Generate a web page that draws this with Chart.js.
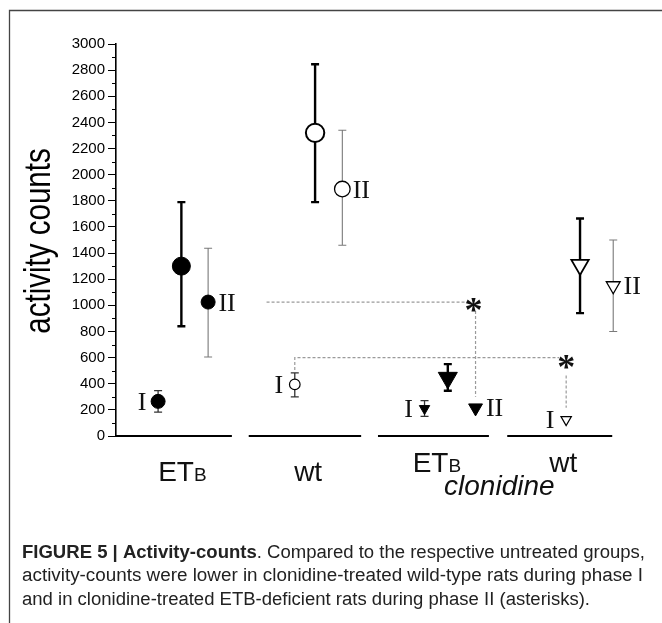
<!DOCTYPE html>
<html><head><meta charset="utf-8">
<script src="https://cdn.jsdelivr.net/npm/chart.js@4.4.1/dist/chart.umd.min.js"></script>
<style>html,body{margin:0;padding:0;background:#fff;}canvas{display:block;}</style>
</head><body>
<canvas id="c" width="662" height="623"></canvas>
<script>
// ---- data ----
const groupMain = ['ET', 'wt', 'ET', 'wt'];
const groupSmall = ['B', '', 'B', ''];
const treatmentLabel = 'clonidine';
const phaseLabels = ['I', '', 'II'];
const yTicksMajor = [0, 200, 400, 600, 800, 1000, 1200, 1400, 1600, 1800, 2000, 2200, 2400, 2600, 2800, 3000];
const yTitle = 'activity counts';

// ETB (untreated)
const etbX = [0.85, 1.32, 1.86];
const etbMean = [265, 1300, 1025];
const etbLow = [182, 840, 605];
const etbHigh = [347, 1790, 1437];
// wt (untreated)
const wtX = [3.61, 4.02, 4.57];
const wtMean = [395, 2320, 1890];
const wtLow = [300, 1790, 1460];
const wtHigh = [483, 2845, 2340];
// ETB + clonidine
const etbCX = [6.23, 6.70, 7.26];
const etbCMean = [210, 445, 215];
const etbCLow = [150, 346, 215];
const etbCHigh = [270, 550, 215];
// wt + clonidine
const wtCX = [9.09, 9.37, 10.04];
const wtCMean = [125, 1310, 1150];
const wtCLow = [125, 940, 800];
const wtCHigh = [125, 1665, 1500];

// significance comparisons (value levels)
const sigLevel = [1025, 600];

const captionBold = 'FIGURE 5 | Activity-counts';
const captionLines = [
  '. Compared to the respective untreated groups,',
  'activity-counts were lower in clonidine-treated wild-type rats during phase I',
  'and in clonidine-treated ETB-deficient rats during phase II (asterisks).'
];

// ---- build ----
const groups = [
  {x: etbX, m: etbMean, lo: etbLow, hi: etbHigh},
  {x: wtX, m: wtMean, lo: wtLow, hi: wtHigh},
  {x: etbCX, m: etbCMean, lo: etbCLow, hi: etbCHigh},
  {x: wtCX, m: wtCMean, lo: wtCLow, hi: wtCHigh}
];
const styles = [
  {shape: 'circle', fill: '#000', r: [7, 9, 7], bw: [1, 1, 1], rot: 0},
  {shape: 'circle', fill: '#fff', r: [5.3, 9.2, 7.8], bw: [1.2, 2, 1.3], rot: 0},
  {shape: 'triangle', fill: '#000', r: [6, 11, 8], bw: [1, 1, 1], rot: 180},
  {shape: 'triangle', fill: '#fff', r: [6, 10, 8], bw: [1.2, 1.8, 1.3], rot: 180}
];
const barStyle = [
  {c: '#333', w: 1.3}, {c: '#000', w: 2.4}, {c: '#7a7a7a', w: 1.1}
];

const datasets = groups.map((g, gi) => ({
  data: g.x.map((x, i) => ({x: x, y: g.m[i]})),
  showLine: false,
  pointStyle: styles[gi].shape,
  pointRotation: styles[gi].rot,
  pointRadius: styles[gi].r,
  pointBackgroundColor: styles[gi].fill,
  pointBorderColor: '#000',
  pointBorderWidth: styles[gi].bw
}));

const overlay = {
  id: 'overlay',
  beforeDatasetsDraw(chart) {
    const ctx = chart.ctx, xs = chart.scales.x, ys = chart.scales.y;
    const ax = chart.chartArea.left;
    ctx.save();
    // minor ticks
    ctx.strokeStyle = '#000'; ctx.lineWidth = 1;
    for (let v = 100; v < 3000; v += 200) {
      const y = Math.round(ys.getPixelForValue(v)) + 0.5;
      ctx.beginPath(); ctx.moveTo(ax - 4, y); ctx.lineTo(ax, y); ctx.stroke();
    }
    // group baselines
    const spans = [[0, 2.34], [2.68, 4.95], [5.29, 7.53], [7.90, 10.02]];
    const y0 = ys.getPixelForValue(0);
    ctx.lineWidth = 1.8;
    spans.forEach(s => {
      ctx.beginPath(); ctx.moveTo(xs.getPixelForValue(s[0]), y0); ctx.lineTo(xs.getPixelForValue(s[1]), y0); ctx.stroke();
    });
    // dashed significance lines
    ctx.strokeStyle = '#9a9a9a'; ctx.lineWidth = 1.2; ctx.setLineDash([3, 2]);
    let yl = ys.getPixelForValue(sigLevel[0]);
    ctx.beginPath();
    ctx.moveTo(xs.getPixelForValue(3.04), yl);
    ctx.lineTo(xs.getPixelForValue(etbCX[2]) - 8, yl);
    ctx.stroke();
    ctx.beginPath();
    ctx.moveTo(xs.getPixelForValue(etbCX[2]), yl + 9);
    ctx.lineTo(xs.getPixelForValue(etbCX[2]), ys.getPixelForValue(300));
    ctx.stroke();
    yl = ys.getPixelForValue(sigLevel[1]);
    ctx.beginPath();
    ctx.moveTo(xs.getPixelForValue(wtX[0]), ys.getPixelForValue(wtHigh[0]) - 3);
    ctx.lineTo(xs.getPixelForValue(wtX[0]), yl);
    ctx.lineTo(xs.getPixelForValue(wtCX[0]) - 7, yl);
    ctx.stroke();
    ctx.beginPath();
    ctx.moveTo(xs.getPixelForValue(wtCX[0]), yl + 18);
    ctx.lineTo(xs.getPixelForValue(wtCX[0]), ys.getPixelForValue(wtCMean[0]) - 12);
    ctx.stroke();
    ctx.setLineDash([]);
    // error bars
    groups.forEach(g => {
      g.x.forEach((x, i) => {
        if (g.lo[i] === g.hi[i]) return;
        const px = xs.getPixelForValue(x);
        const yt = ys.getPixelForValue(g.hi[i]), yb = ys.getPixelForValue(g.lo[i]);
        ctx.strokeStyle = barStyle[i].c; ctx.lineWidth = barStyle[i].w;
        ctx.beginPath();
        ctx.moveTo(px, yt); ctx.lineTo(px, yb);
        ctx.moveTo(px - 4, yt); ctx.lineTo(px + 4, yt);
        ctx.moveTo(px - 4, yb); ctx.lineTo(px + 4, yb);
        ctx.stroke();
      });
    });
    ctx.restore();
  },
  afterDatasetsDraw(chart) {
    const ctx = chart.ctx, xs = chart.scales.x, ys = chart.scales.y;
    ctx.save();
    ctx.fillStyle = '#111';
    // phase labels
    ctx.font = '26px "Liberation Serif", "Times New Roman", serif';
    ctx.textBaseline = 'alphabetic'; ctx.textAlign = 'center';
    const offs = [-16, 0, 19];
    groups.forEach(g => {
      g.x.forEach((x, i) => {
        if (!phaseLabels[i]) return;
        const px = xs.getPixelForValue(x) + offs[i];
        const py = ys.getPixelForValue(g.m[i]) + 8.5;
        ctx.fillText(phaseLabels[i], px, py);
      });
    });
    // asterisks
    ctx.font = 'bold 36px "Liberation Serif", serif';
    const drawStar = (cx, cy) => {
      const m = ctx.measureText('*');
      const base = cy + (m.actualBoundingBoxAscent - m.actualBoundingBoxDescent) / 2;
      ctx.fillText('*', cx, base);
    };
    drawStar(xs.getPixelForValue(etbCX[2]) - 2, ys.getPixelForValue(sigLevel[0]) + 3);
    drawStar(xs.getPixelForValue(wtCX[0]), ys.getPixelForValue(sigLevel[1]) + 4);
    // group labels
    const labX = [1.34, 3.88, 6.48, 9.03];
    const labY = [481, 481, 472, 472];
    groupMain.forEach((t, i) => {
      ctx.font = '28px "Liberation Sans", Arial, sans-serif';
      const w1 = ctx.measureText(t).width;
      ctx.font = '19px "Liberation Sans", Arial, sans-serif';
      const w2 = groupSmall[i] ? ctx.measureText(groupSmall[i]).width : 0;
      const start = xs.getPixelForValue(labX[i]) - (w1 + w2) / 2;
      ctx.textAlign = 'left';
      ctx.font = '28px "Liberation Sans", Arial, sans-serif';
      ctx.fillText(t, start, labY[i]);
      if (groupSmall[i]) {
        ctx.font = '19px "Liberation Sans", Arial, sans-serif';
        ctx.fillText(groupSmall[i], start + w1, labY[i]);
      }
    });
    ctx.textAlign = 'center';
    ctx.font = 'italic 28px "Liberation Sans", Arial, sans-serif';
    ctx.fillText(treatmentLabel, xs.getPixelForValue(7.74), 495);
    // y title (condensed)
    ctx.save();
    ctx.translate(40, 241); ctx.rotate(-Math.PI / 2); ctx.scale(0.82, 1);
    ctx.font = '36px "Liberation Sans", Arial, sans-serif';
    ctx.textBaseline = 'middle';
    ctx.fillStyle = '#000';
    ctx.fillText(yTitle, 0, 0);
    ctx.restore();
    // frame
    ctx.strokeStyle = '#444'; ctx.lineWidth = 1.3;
    ctx.beginPath(); ctx.moveTo(9.5, 623); ctx.lineTo(9.5, 10.5); ctx.lineTo(662, 10.5); ctx.stroke();
    // caption
    ctx.fillStyle = '#222'; ctx.textAlign = 'left'; ctx.textBaseline = 'alphabetic';
    const fam = '"Liberation Sans Narrow", "Liberation Sans", Arial, sans-serif';
    const lines = [
      [{t: captionBold, b: true}, {t: captionLines[0], b: false}],
      [{t: captionLines[1], b: false}],
      [{t: captionLines[2], b: false}]
    ];
    const targetW = [623, 621, 568];
    const baseY = [558, 581, 605];
    lines.forEach((parts, li) => {
      let w = 0;
      parts.forEach(p => { ctx.font = (p.b ? 'bold ' : '') + '18px ' + fam; p.w = ctx.measureText(p.t).width; w += p.w; });
      const s = targetW[li] / w;
      ctx.save(); ctx.translate(22, baseY[li]); ctx.scale(s, 1);
      let cx = 0;
      parts.forEach(p => { ctx.font = (p.b ? 'bold ' : '') + '18px ' + fam; ctx.fillText(p.t, cx, 0); cx += p.w; });
      ctx.restore();
    });
    ctx.restore();
  }
};

new Chart(document.getElementById('c'), {
  type: 'scatter',
  data: {datasets},
  options: {
    responsive: false, animation: false, devicePixelRatio: 1,
    layout: {padding: {left: 0, top: 44, right: 26, bottom: 187}},
    plugins: {legend: {display: false}, tooltip: {enabled: false}},
    scales: {
      x: {type: 'linear', min: 0, max: 10.5, display: false},
      y: {
        type: 'linear', min: 0, max: 3000,
        afterFit: s => { s.width = 116; },
        afterBuildTicks: s => { s.ticks = yTicksMajor.map(v => ({value: v})); },
        ticks: {font: {family: '"Liberation Sans", Arial, sans-serif', size: 15}, color: '#000', padding: 3,
                callback: v => String(v)},
        grid: {drawOnChartArea: false, drawTicks: true, tickLength: 8, tickColor: '#000', tickWidth: 1},
        border: {display: true, color: '#000', width: 1.6}
      }
    }
  },
  plugins: [overlay]
});
</script>
</body></html>
